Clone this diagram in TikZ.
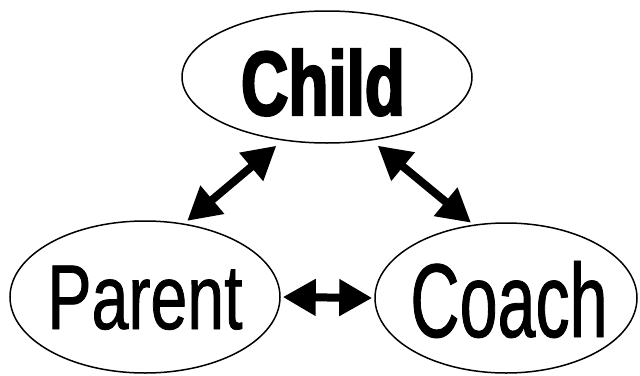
\documentclass[tikz,border=0pt]{standalone}
\usepackage{fontspec}
\setmainfont{Liberation Sans}
\newfontfamily\childfont{Liberation Sans Bold}[FakeStretch=0.72,FakeBold=2.5]
\newfontfamily\parentfont{Liberation Sans}[FakeStretch=0.72,FakeBold=0.8]
\newfontfamily\coachfont{Liberation Sans}[FakeStretch=0.65,FakeBold=0.8]
\usetikzlibrary{shapes.geometric,arrows.meta}
\begin{document}
\begin{tikzpicture}[x=1pt,y=-1pt,
  oval/.style={draw=black,line width=1.5pt,ellipse,inner sep=0pt},
  lbl/.style={anchor=base,inner sep=0pt},
  link/.style={line width=8pt,{Triangle[length=33pt,width=35pt]}-{Triangle[length=33pt,width=35pt]}}]
\useasboundingbox (0,0) rectangle (640,375);
\fill[white] (0,0) rectangle (640,375);
\node[oval,minimum width=290pt,minimum height=132pt] (child) at (327,77) {};
\node[oval,minimum width=270pt,minimum height=152pt] (parent) at (145,297) {};
\node[oval,minimum width=262pt,minimum height=150pt] (coach) at (506,298) {};
\node[lbl] (childtxt) at (323,115) {\childfont\fontsize{91}{91}\selectfont Child};
\node[lbl] (parenttxt) at (145,329) {\parentfont\fontsize{92}{92}\selectfont Parent};
\node[lbl] (coachtxt) at (509,337) {\coachfont\fontsize{105}{105}\selectfont Coach};
\draw[link,shorten <=8pt,shorten >=4pt] (child.235) -- (parent.62.5);
\draw[link,shorten <=8pt,shorten >=3pt] (child.305.5) -- (coach.114);
\draw[link,shorten <=2pt,shorten >=2pt] (parent.0) -- (coach.180);
\end{tikzpicture}
\end{document}
